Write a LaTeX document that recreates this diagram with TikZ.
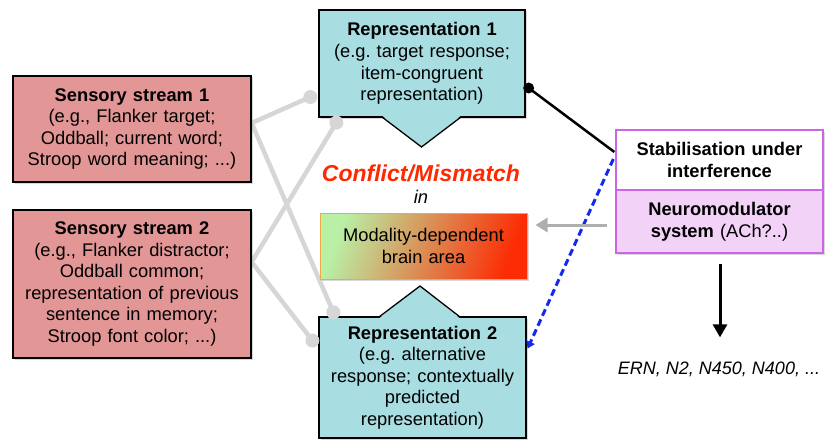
\documentclass[tikz,border=0pt]{standalone}
\usepackage{fontspec}
\setmainfont{Liberation Sans}
\usetikzlibrary{shadows,backgrounds,calc,arrows.meta}
\definecolor{sens}{RGB}{227,150,150}
\definecolor{repc}{RGB}{168,221,226}
\definecolor{purp}{RGB}{205,100,235}
\definecolor{neur}{RGB}{243,210,248}
\definecolor{glinec}{RGB}{214,214,214}
\definecolor{confred}{RGB}{255,40,0}
\definecolor{gradL}{RGB}{185,240,165}
\definecolor{gradM}{RGB}{225,150,100}
\definecolor{gradR}{RGB}{252,45,5}
\definecolor{modb}{RGB}{238,170,70}
\definecolor{dblue}{RGB}{20,40,240}
\definecolor{garrow}{RGB}{175,175,175}
\begin{document}
\frenchspacing
\begin{tikzpicture}[x=1pt,y=-1pt,
  txt/.style={font=\fontsize{18.3}{21.6}\selectfont, align=center, inner sep=0pt},
  shad/.style={drop shadow={shadow xshift=1.5pt, shadow yshift=-1.5pt, opacity=0.3}},
  sbox/.style={txt, shad, draw=black, line width=1.3pt, fill=sens},
  rbox/.style={txt, shad, draw=black, line width=1.3pt, fill=repc},
  pbox/.style={txt, shad, draw=purp, line width=1.3pt, minimum width=207pt, text width=205pt},
  gline/.style={glinec, line width=4.5pt},
  gdot/.style={glinec},
]
\useasboundingbox (0,0) rectangle (825,444);

% sensory streams
\node[sbox, minimum width=238pt, minimum height=106pt, text width=236pt] (s1) at (132,129)
  {\textbf{Sensory stream 1}\\(e.g., Flanker target;\\Oddball; current word;\\Stroop word meaning; ...)};
\node[sbox, minimum width=238pt, minimum height=148pt, text width=236pt] (s2) at (132,284)
  {\textbf{Sensory stream 2}\\(e.g., Flanker distractor;\\Oddball common;\\representation of previous\\sentence in memory;\\Stroop font color; ...)};

% representations
\node[rbox, minimum width=206pt, minimum height=107pt, text width=204pt] (r1) at (422,63.5)
  {\textbf{Representation 1}\\(e.g. target response;\\item-congruent\\representation)};
\fill[repc] (382,115.6) -- (421.5,147) -- (461,115.6) -- cycle;
\draw[line width=1.3pt, line join=miter] (382,117) -- (421.5,147) -- (461,117);

\node[rbox, minimum width=207pt, minimum height=121pt, text width=205pt] (r2) at (422.5,377.5)
  {\textbf{Representation 2}\\(e.g. alternative\\response; contextually\\predicted\\representation)};
\fill[repc] (379,318.4) -- (420,286) -- (460,318.4) -- cycle;
\draw[line width=1.3pt, line join=miter] (379,317) -- (420,286) -- (460,317);

% conflict text
\node[font=\fontsize{23}{27}\selectfont\bfseries\itshape, text=confred, inner sep=0pt] (conf) at (421,173) {Conflict/Mismatch};
\node[font=\fontsize{18.3}{21}\selectfont\itshape, inner sep=0pt] (inw) at (421,197) {in};

% modality box
\node[txt, shad, minimum width=207pt, minimum height=66pt, text width=205pt, draw=modb, line width=1pt,
  left color=gradL, middle color=gradM, right color=gradR, shading angle=70] (mod) at (423.5,246)
  {Modality-dependent\\brain area};

% stabilisation / neuromodulator
\node[pbox, fill=white, minimum height=60pt] (stab) at (719.5,160)
  {\textbf{Stabilisation under}\\\textbf{interference}};
\node[pbox, fill=neur, minimum height=63pt] (neu) at (719.5,221.5)
  {\textbf{Neuromodulator}\\\textbf{system} (ACh?..)};

\node[font=\fontsize{18}{20}\selectfont\itshape, inner sep=0pt] (ern) at (719,369) {ERN, N2, N450, N400, ...};

% coordinates for gray links
\coordinate (j1) at ($(s1.east)+(0,-6)$);
\coordinate (j2) at ($(s2.east)+(0,-22)$);
\coordinate (d1a) at ($(r1.west)+(-8,33.5)$);
\coordinate (d1b) at ($(r1.south west)+(18,5)$);
\coordinate (d2a) at ($(r2.north west)+(15,-4)$);
\coordinate (d2b) at ($(r2.west)+(-6,-37)$);

\begin{scope}[on background layer]
  \draw[gline] (j1) -- (d1a);
  \draw[gline] (j1) -- (d2a);
  \draw[gline] (j2) -- (d1b);
  \draw[gline] (j2) -- (d2b);
\end{scope}
\foreach \d in {d1a,d1b,d2a,d2b} { \fill[gdot] (\d) circle (7); }

% black stabilising link
\coordinate (r1dot) at ($(r1.east)+(3,24.5)$);
\coordinate (stabA) at ($(stab.west)+(-1,-8)$);
\draw[line width=2.5pt] (r1dot) -- (stabA);
\fill (r1dot) circle (5.5);

% blue dashed arrow
\coordinate (stabB) at ($(stab.west)+(-2,-1)$);
\coordinate (r2in) at ($(r2.east)+(1,-29)$);
\draw[dblue, line width=3pt, dash pattern=on 7pt off 4pt, -{Triangle[length=7pt,width=9pt]}] (stabB) -- (r2in);

% gray arrow
\coordinate (neuA) at ($(neu.west)+(-8,3.5)$);
\coordinate (modA) at ($(mod.east)+(8,-21)$);
\draw[garrow, line width=3pt, -{Triangle[length=12pt,width=14pt]}] (neuA) -- (modA);

% black down arrow
\coordinate (neuB) at ($(neu.south)+(0.5,10)$);
\coordinate (ernA) at ($(ern.north)+(1,-24)$);
\draw[line width=3pt, -{Triangle[length=13pt,width=14pt]}] (neuB) -- (ernA);
\end{tikzpicture}
\end{document}
